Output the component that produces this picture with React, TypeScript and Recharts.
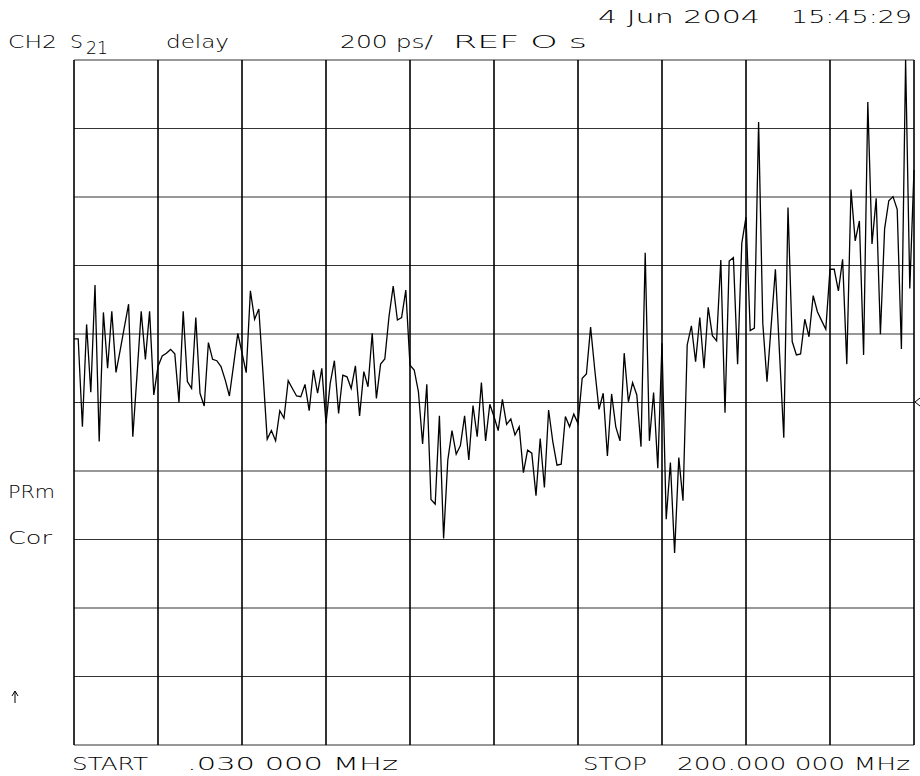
import React from 'react';
import { LineChart, Line, XAxis, YAxis, CartesianGrid } from 'recharts';

// S21 group delay trace, 201 points, ps (200 ps/div, REF 0 s at centre)
const delayPs = [
  186, 186, -71, 228, 30, 343, -114, 263, 100, 266,
  88, 153, 221, 287, -100, 80, 266, 126, 266, 22,
  105, 136, 144, 155, 142, 0, 266, 61, 41, 248,
  27, -10, 175, 126, 122, 105, 66, 19, 110, 202,
  145, 87, 326, 243, 273, 86, -107, -82, -112, -24,
  -46, 64, 41, 19, 17, 53, -24, 95, 27, 100,
  -61, 56, 122, -32, 80, 75, 41, 107, -39, 90,
  46, 202, 12, 112, 127, 251, 340, 241, 248, 328,
  109, 95, 32, -121, 53, -283, -297, -39, -397, -168,
  -82, -151, -126, -39, -168, -9, -100, 58, -112, -5,
  -41, -82, 9, -64, -48, -95, -71, -205, -139, -148,
  -272, -105, -248, -22, -114, -183, -180, -41, -71, -34,
  -61, 71, 83, 220, 95, -20, 27, -156, 25, -71,
  -112, 144, 2, 58, 22, -129, 437, -112, 29, -192,
  173, -341, -175, -439, -161, -287, 168, 224, 119, 248,
  100, 278, 195, 180, 416, -30, 413, 423, 112, 465,
  541, 210, 217, 819, 231, 61, 226, 389, 139, -103,
  569, 178, 139, 142, 243, 192, 312, 265, 239, 214,
  389, 389, 326, 418, 112, 622, 472, 530, 139, 877,
  463, 596, 199, 507, 589, 601, 564, 156, 1000, 333,
  679,
];

// point index ticks (10 divisions) and delay ticks (200 ps/div)
const xTicks = [0, 20, 40, 60, 80, 100, 120, 140, 160, 180, 200];
const yTicks = [-1000, -800, -600, -400, -200, 0, 200, 400, 600, 800, 1000];

const data = delayPs.map((d, i) => ({ pt: i, delay: d }));

const font = {
  fontFamily: '"DejaVu Sans", sans-serif',
  fontWeight: 200,
  fontSize: 18,
  fill: '#000',
};

const Label = ({ x, y, w, children }: any) => (
  <text x={x} y={y} textLength={w} lengthAdjust="spacingAndGlyphs" style={font}>
    {children}
  </text>
);

export default function App() {
  return (
    <div style={{ position: 'absolute', left: 0, top: 0, width: 920, height: 776, background: '#fff' }}>
      <LineChart width={920} height={776} data={data} margin={{ top: 60, right: 6, bottom: 31, left: 74 }}>
        <CartesianGrid vertical={false} horizontal={true} stroke="#333" strokeWidth={1.1} />
        <CartesianGrid vertical={true} horizontal={false} stroke="#000" strokeWidth={1.6} />
        <XAxis type="number" dataKey="pt" domain={[0, 200]} ticks={xTicks} hide />
        <YAxis type="number" domain={[-1000, 1000]} ticks={yTicks} hide allowDataOverflow />
        <Line
          type="linear"
          dataKey="delay"
          stroke="#000"
          strokeWidth={1.3}
          dot={false}
          isAnimationActive={false}
        />
      </LineChart>
      <svg width={920} height={776} style={{ position: 'absolute', left: 0, top: 0, pointerEvents: 'none' }}>
        <Label x={598} y={23} w={162}>4 Jun 2004</Label>
        <Label x={791} y={23} w={121}>15:45:29</Label>

        <Label x={8} y={48} w={49}>CH2</Label>
        <Label x={70} y={48} w={13}>S</Label>
        <Label x={86} y={54} w={22}>21</Label>
        <Label x={166} y={48} w={63}>delay</Label>
        <Label x={340} y={48} w={93}>200 ps/</Label>
        <Label x={453} y={48} w={134}>REF O s</Label>

        <Label x={8} y={498} w={47}>PRm</Label>
        <Label x={8} y={544} w={44}>Cor</Label>
        {/* stimulus arrow */}
        <path d="M15,703 L15,691 M12,696 L15,691 L18,696" fill="none" stroke="#000" strokeWidth={1} />

        <Label x={72} y={770} w={76}>START</Label>
        <Label x={187} y={770} w={211}>.030 000 MHz</Label>
        <Label x={583} y={770} w={64}>STOP</Label>
        <Label x={677} y={770} w={233}>200.000 000 MHz</Label>

        <polyline points="920,398 915,402 920,406" fill="none" stroke="#000" strokeWidth={1} />
      </svg>
    </div>
  );
}
